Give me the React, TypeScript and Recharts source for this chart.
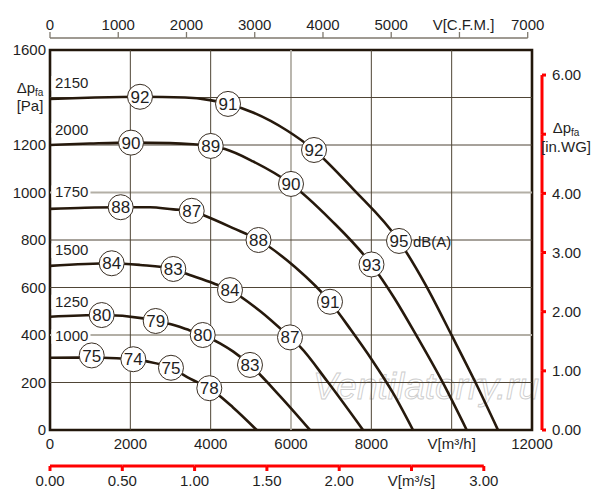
import React from 'react';
import {
  ComposedChart,
  Line,
  Scatter,
  XAxis,
  YAxis,
  ReferenceLine,
  ReferenceArea,
  Customized,
} from 'recharts';

// ---------- data (airflow q in m³/h, pressure p in Pa) ----------
const CURVE_2150: [number, number][] = [
  [0, 1394], [1120, 1400], [2241, 1403], [3361, 1400], [3983, 1389], [4432, 1373],
  [5054, 1337], [5900, 1261], [6573, 1179], [7543, 1015], [8689, 796], [9361, 608],
  [10008, 396], [10581, 204], [11153, 0],
];
const CURVE_2000: [number, number][] = [
  [0, 1200], [996, 1206], [2017, 1210], [2988, 1208], [3560, 1203], [4001, 1196],
  [4357, 1183], [5054, 1131], [6000, 1036], [6996, 884], [8004, 697], [8563, 558],
  [9128, 396], [9784, 198], [10374, 0],
];
const CURVE_1750: [number, number][] = [
  [0, 931], [871, 936], [1760, 938], [2490, 938], [3070, 929], [3528, 923],
  [3809, 905], [4557, 850], [5191, 800], [6100, 686], [6971, 540], [7494, 421],
  [8016, 295], [8539, 156], [9037, 0],
];
const CURVE_1500: [number, number][] = [
  [0, 691], [1536, 702], [2241, 695], [3070, 678], [3361, 660], [4066, 618],
  [4481, 589], [5228, 501], [5975, 390], [6224, 351], [6898, 206], [7793, 0],
];
const CURVE_1250: [number, number][] = [
  [0, 477], [1287, 484], [2323, 470], [2631, 459], [2988, 446], [3403, 424],
  [3802, 400], [4232, 365], [4564, 330], [4979, 274], [5726, 143], [6473, 0],
];
const CURVE_1000: [number, number][] = [
  [0, 304], [1038, 305], [1661, 302], [2074, 298], [2407, 289], [3012, 262],
  [3486, 216], [3966, 176], [4556, 95], [5146, 0],
];

const SPEEDS = ['2150', '2000', '1750', '1500', '1250', '1000'];
const CURVES = [CURVE_2150, CURVE_2000, CURVE_1750, CURVE_1500, CURVE_1250, CURVE_1000];

const DB_POINTS = [
  { q: 2241, p: 1403, db: 92 }, { q: 4432, p: 1373, db: 91 }, { q: 6573, p: 1179, db: 92 },
  { q: 8689, p: 796, db: 95, unit: 'dB(A)' },
  { q: 2017, p: 1210, db: 90 }, { q: 4001, p: 1196, db: 89 }, { q: 6000, p: 1036, db: 90 },
  { q: 8004, p: 697, db: 93 },
  { q: 1760, p: 938, db: 88 }, { q: 3528, p: 923, db: 87 }, { q: 5191, p: 800, db: 88 },
  { q: 6971, p: 540, db: 91 },
  { q: 1536, p: 702, db: 84 }, { q: 3070, p: 678, db: 83 }, { q: 4481, p: 589, db: 84 },
  { q: 5975, p: 390, db: 87 },
  { q: 1287, p: 484, db: 80 }, { q: 2631, p: 459, db: 79 }, { q: 3802, p: 400, db: 80 },
  { q: 4979, p: 274, db: 83 },
  { q: 1038, p: 314, db: 75 }, { q: 2074, p: 298, db: 74 }, { q: 3012, p: 262, db: 75 },
  { q: 3966, p: 176, db: 78 },
];

const Q_TICKS = [0, 2000, 4000, 6000, 8000, 10000, 12000];
const PA_TICKS = [0, 200, 400, 600, 800, 1000, 1200, 1400, 1600];
const CFM_TICKS = [0, 1000, 2000, 3000, 4000, 5000, 6000, 7000];
const M3S_TICKS = [0, 0.5, 1, 1.5, 2, 2.5, 3];
const INWG_TICKS = [0, 1, 2, 3, 4, 5, 6];

const GRID_X_DARK = [2000, 4000, 8000, 10000];
const GRID_X_GRAY = [6000];
const GRID_Y_DARK = [200, 600, 800, 1200, 1400];
const GRID_Y_GRAY = [400, 1000];

// unit conversions
const Q_MAX = 12000;
const PA_MAX = 1600;
const M3H_PER_CFM = 1.69901;
const M3H_PER_M3S = 3600;
const PA_PER_INWG = 249.0889;
const CFM_MAX = Q_MAX / M3H_PER_CFM;
const M3S_MAX = Q_MAX / M3H_PER_M3S;
const INWG_MAX = PA_MAX / PA_PER_INWG;

const UNIT_EXTENT = [
  { c: 0, s: 0, w: 0 },
  { c: CFM_MAX, s: M3S_MAX, w: INWG_MAX },
];

// ---------- layout / styles ----------
const FONT = '"Liberation Sans", Arial, Helvetica, sans-serif';
const TEXT = '#1f1f1f';
const CURVE_COLOR = '#26190c';
const FRAME_COLOR = '#22170b';
const GRID_DARK = '#4f4536';
const GRID_GRAY = '#b3afa6';
const AXIS2 = '#7f796e';
const LABEL_DY = [-11, -10, -11.5, -10.5, -10, -16.5];
const PLOT_W = 482;
const PLOT_H = 380;

const Sub = ({ children }: { children: React.ReactNode }) => (
  <tspan fontSize={10} dy={3}>{children}</tspan>
);

const MainXTick = (props: any) => {
  const { x, y, payload } = props;
  const v = payload.value;
  return (
    <text x={x} y={y} dy="0.71em" textAnchor="middle" fontSize={15} fill={TEXT} fontFamily={FONT}>
      {v === 10000 ? 'V[m³/h]' : String(v)}
    </text>
  );
};

const M3sTick = (props: any) => {
  const { x, y, payload } = props;
  const v = payload.value;
  const seg = (0.5 * PLOT_W) / M3S_MAX;
  const axisY = y - 9;
  return (
    <g>
      {v > 0 && <line x1={x - seg} x2={x} y1={axisY} y2={axisY} stroke="red" strokeWidth={3} />}
      <line x1={x} x2={x} y1={axisY} y2={axisY + 5} stroke="red" strokeWidth={3} />
      <text x={x} y={y} dy="0.71em" textAnchor="middle" fontSize={15} fill={TEXT} fontFamily={FONT}>
        {v === 2.5 ? 'V[m³/s]' : v.toFixed(2)}
      </text>
    </g>
  );
};

const CfmTick = (props: any) => {
  const { x, y, payload } = props;
  const v = payload.value;
  const seg = (1000 * PLOT_W) / CFM_MAX;
  const axisY = y + 8;
  return (
    <g>
      {v > 0 && <line x1={x - seg} x2={x} y1={axisY} y2={axisY} stroke={AXIS2} strokeWidth={1.3} />}
      <line x1={x} x2={x} y1={axisY} y2={axisY - 6} stroke={AXIS2} strokeWidth={1.3} />
      <text x={v === 6000 ? x + 4 : x} y={y} textAnchor="middle" fontSize={15} fill={TEXT} fontFamily={FONT}>
        {v === 6000 ? 'V[C.F.M.]' : String(v)}
      </text>
    </g>
  );
};

const PaTick = (props: any) => {
  const { x, y, payload } = props;
  const v = payload.value;
  if (v === 1400) {
    return (
      <g fontSize={15} fill={TEXT} fontFamily={FONT}>
        <text x={x - 16} y={y - 4.5} textAnchor="middle">Δp<Sub>fa</Sub></text>
        <text x={x - 16} y={y + 13.5} textAnchor="middle">[Pa]</text>
      </g>
    );
  }
  return (
    <text x={x} y={y} dy="0.355em" textAnchor="end" fontSize={15} fill={TEXT} fontFamily={FONT}>
      {String(v)}
    </text>
  );
};

const InwgTick = (props: any) => {
  const { x, y, payload } = props;
  const v = payload.value;
  const seg = PLOT_H / INWG_MAX;
  const axisX = x - 10;
  return (
    <g>
      {v > 0 && <line x1={axisX} x2={axisX} y1={y} y2={y + seg} stroke="red" strokeWidth={3} />}
      <line x1={axisX} x2={axisX + 4} y1={y} y2={y} stroke="red" strokeWidth={3} />
      {v === 5 ? (
        <g fontSize={15} fill={TEXT} fontFamily={FONT}>
          <text x={x + 14} y={y - 1} textAnchor="middle">Δp<Sub>fa</Sub></text>
          <text x={x + 14} y={y + 18} textAnchor="middle">[in.WG]</text>
        </g>
      ) : (
        <text x={x} y={y} dy="0.355em" textAnchor="start" fontSize={15} fill={TEXT} fontFamily={FONT}>
          {v.toFixed(2)}
        </text>
      )}
    </g>
  );
};

const makeSpeedDot = (name: string, dy: number) => (props: any) => {
  const { cx, cy, index } = props;
  if (index !== 0) return <g key={`e${index}`} />;
  return (
    <g key={`lbl-${name}`}>
      <rect x={cx + 1.5} y={cy + dy - 12} width={39} height={14.5} fill="#ffffff" />
      <text x={cx + 5} y={cy + dy} fontSize={15} fill={TEXT} fontFamily={FONT}>{name}</text>
    </g>
  );
};

const DbBubble = (props: any) => {
  const { cx, cy, payload } = props;
  return (
    <g>
      <circle cx={cx} cy={cy} r={12.5} fill="#ffffff" stroke="#3a2f24" strokeWidth={1} />
      <text x={cx} y={cy} dy="0.36em" textAnchor="middle" fontSize={17} fill={TEXT} fontFamily={FONT}>
        {payload.db}
      </text>
      {payload.unit && (
        <text x={cx + 14} y={cy + 6} fontSize={15} fill={TEXT} fontFamily={FONT}>{payload.unit}</text>
      )}
    </g>
  );
};

const NoShape = () => <g />;

const Watermark = () => (
  <text x={313} y={399} fontSize={37} fontStyle="italic" fontFamily={FONT}
    fill="#ffffff" fillOpacity={0.6} stroke="#cdcdcd" strokeWidth={0.9}>
    Ventilatorry.ru
  </text>
);

export default function App() {
  return (
    <div style={{ position: 'absolute', left: 0, top: 0, width: 600, height: 500, background: '#fff' }}>
      <ComposedChart width={600} height={500} margin={{ top: 0, right: 0, bottom: 0, left: 0 }}>
        <XAxis xAxisId="m3h" orientation="bottom" type="number" dataKey="q" domain={[0, Q_MAX]}
          ticks={Q_TICKS} interval={0} height={36} axisLine={false} tickLine={false}
          tickSize={6} tickMargin={2} tick={<MainXTick />} />
        <XAxis xAxisId="m3s" orientation="bottom" type="number" dataKey="s" domain={[0, M3S_MAX]}
          allowDataOverflow ticks={M3S_TICKS} interval={0} height={34} axisLine={false} tickLine={false}
          tickSize={5} tickMargin={4} tick={<M3sTick />} />
        <XAxis xAxisId="a_gap" orientation="top" type="number" domain={[0, 1]} height={12}
          tick={false} tickLine={false} axisLine={false} />
        <XAxis xAxisId="cfm" orientation="top" type="number" dataKey="c" domain={[0, CFM_MAX]}
          allowDataOverflow ticks={CFM_TICKS} interval={0} height={38} axisLine={false} tickLine={false}
          tickSize={6} tickMargin={2} tick={<CfmTick />} />
        <YAxis yAxisId="pa" orientation="left" type="number" dataKey="p" domain={[0, PA_MAX]}
          ticks={PA_TICKS} interval={0} width={50} axisLine={false} tickLine={false}
          tickSize={2} tickMargin={2} tick={<PaTick />} />
        <YAxis yAxisId="a_gap" orientation="right" type="number" domain={[0, 1]} width={10}
          tick={false} tickLine={false} axisLine={false} />
        <YAxis yAxisId="inwg" orientation="right" type="number" dataKey="w" domain={[0, INWG_MAX]}
          allowDataOverflow ticks={INWG_TICKS} interval={0} width={58} axisLine={false} tickLine={false}
          tickSize={4} tickMargin={6} tick={<InwgTick />} />

        {GRID_Y_GRAY.map((v) => (
          <ReferenceLine key={`gyg${v}`} xAxisId="m3h" yAxisId="pa" y={v} stroke={GRID_GRAY} strokeWidth={1.8} />
        ))}
        {GRID_X_GRAY.map((v) => (
          <ReferenceLine key={`gxg${v}`} xAxisId="m3h" yAxisId="pa" x={v} stroke={GRID_GRAY} strokeWidth={1.8} />
        ))}
        {GRID_Y_DARK.map((v) => (
          <ReferenceLine key={`gyd${v}`} xAxisId="m3h" yAxisId="pa" y={v} stroke={GRID_DARK} strokeWidth={1} />
        ))}
        {GRID_X_DARK.map((v) => (
          <ReferenceLine key={`gxd${v}`} xAxisId="m3h" yAxisId="pa" x={v} stroke={GRID_DARK} strokeWidth={1} />
        ))}

        <Customized component={<Watermark />} />

        <Scatter xAxisId="cfm" yAxisId="inwg" data={UNIT_EXTENT} shape={<NoShape />} isAnimationActive={false} />
        <Scatter xAxisId="m3s" yAxisId="inwg" data={UNIT_EXTENT} shape={<NoShape />} isAnimationActive={false} />

        {CURVES.map((curve, i) => (
          <Line key={SPEEDS[i]} xAxisId="m3h" yAxisId="pa" data={curve.map(([q, p]) => ({ q, p }))}
            dataKey="p" type="monotone" stroke={CURVE_COLOR} strokeWidth={2.6}
            dot={makeSpeedDot(SPEEDS[i], LABEL_DY[i])} activeDot={false} isAnimationActive={false} />
        ))}

        <Scatter xAxisId="m3h" yAxisId="pa" data={DB_POINTS} shape={<DbBubble />} isAnimationActive={false} />

        <ReferenceArea xAxisId="m3h" yAxisId="pa" x1={0} x2={Q_MAX} y1={0} y2={PA_MAX}
          fill="none" fillOpacity={0} stroke={FRAME_COLOR} strokeWidth={2.6} strokeOpacity={1} />
      </ComposedChart>
    </div>
  );
}
